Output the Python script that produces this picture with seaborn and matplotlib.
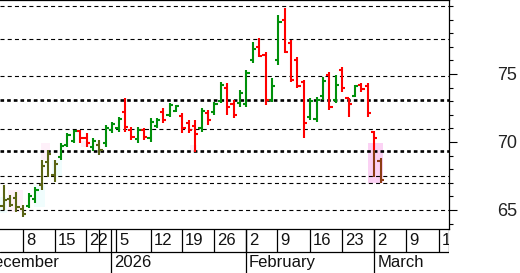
import numpy as np
import pandas as pd
import matplotlib
matplotlib.use("Agg")
import matplotlib.pyplot as plt
from matplotlib.patches import Rectangle
import seaborn as sns

# ---------------- data ----------------
opens = [65.30, 65.80, 65.90, 65.10, 65.30, 65.80, 66.80, 68.50, 67.60, 68.90,
         69.80, 70.10, 70.80, 70.30, 69.60, 69.80, 69.90, 70.90, 71.00, 72.20,
         70.90, 70.20, 70.85, 70.30, 71.20, 72.20, 72.00, 72.30, 71.90, 71.40,
         71.20, 71.00, 72.10, 72.20, 73.00, 74.00, 72.80, 72.90, 72.80, 76.00,
         77.00, 76.40, 73.10, 76.00, 79.00, 77.30, 76.00, 74.40, 71.80, 71.70,
         73.40, 74.90, 73.10, 75.30, 73.20, 73.40, 74.20, 74.10, 70.70, 68.60]
highs = [66.84, 66.10, 66.30, 65.35, 66.25, 66.70, 68.70, 69.40, 68.70, 69.90,
         70.65, 70.90, 70.90, 70.65, 70.30, 70.15, 71.25, 71.45, 71.85, 73.25,
         71.10, 71.10, 71.05, 71.75, 71.75, 72.50, 72.85, 72.70, 72.15, 71.60,
         71.60, 72.50, 72.35, 72.95, 74.40, 74.35, 73.10, 73.80, 75.30, 77.35,
         77.65, 76.60, 74.70, 79.35, 79.85, 77.50, 76.25, 74.55, 73.25, 73.30,
         74.80, 75.15, 74.90, 75.50, 73.25, 74.20, 74.35, 74.35, 70.80, 68.80]
lows = [65.00, 65.20, 64.85, 64.50, 65.15, 65.50, 66.50, 67.45, 67.05, 68.70,
        69.60, 69.90, 69.95, 69.65, 69.30, 69.05, 69.65, 70.65, 70.75, 70.75,
        70.15, 69.95, 70.15, 70.00, 71.05, 71.40, 71.85, 72.20, 70.65, 70.65,
        69.25, 70.75, 71.25, 71.95, 72.85, 72.00, 71.75, 72.55, 72.55, 75.80,
        76.25, 72.70, 72.95, 75.65, 76.55, 74.40, 73.95, 70.30, 71.60, 71.45,
        73.10, 72.35, 72.85, 73.70, 71.85, 73.30, 73.70, 71.85, 67.45, 67.00]
closes = [65.75, 65.40, 65.20, 64.70, 66.00, 66.50, 68.20, 69.10, 68.40, 69.70,
          70.50, 70.80, 70.30, 69.90, 70.10, 69.40, 71.00, 71.30, 71.70, 71.10,
          70.40, 70.90, 70.40, 71.50, 71.60, 71.60, 72.70, 72.65, 71.00, 70.90,
          70.60, 72.30, 71.60, 72.80, 74.20, 72.60, 72.00, 73.60, 75.10, 76.80,
          76.30, 73.10, 74.10, 78.80, 76.65, 74.55, 74.10, 71.40, 73.00, 73.10,
          74.50, 72.60, 74.20, 74.00, 72.80, 74.10, 73.90, 72.10, 70.30, 67.20]
kinds = ['o', 'o', 'o', 'o', 'g', 'g', 'o', 'o', 'o', 'g',
         'g', 'g', 'r', 'r', 'g', 'o', 'g', 'g', 'g', 'r',
         'r', 'g', 'r', 'g', 'g', 'r', 'g', 'g', 'r', 'r',
         'r', 'g', 'r', 'g', 'g', 'r', 'r', 'g', 'g', 'g',
         'r', 'r', 'g', 'g', 'r', 'r', 'r', 'r', 'g', 'g',
         'g', 'r', 'g', 'r', 'r', 'g', 'r', 'r', 'r', 'b']
split_bar = 58          # bar whose lower part is brown
split_value = 69.40

grid_levels = [80.0, 77.55, 74.83, 73.11, 70.96, 69.36, 67.5, 66.96, 64.98]
heavy_levels = [73.11, 69.36]

# shaded boxes: (slot_left, slot_right, low, high, kind)
shade_l = [-0.6, 0.7, 4.7, 5.8, 7.6, 12.2, 29.2, 57.05]
shade_r = [0.6, 3.0, 6.5, 7.3, 9.2, 13.6, 30.3, 59.4]
shade_lo = [64.8, 64.85, 65.2, 68.7, 67.5, 69.6, 69.25, 66.99]
shade_hi = [65.95, 66.5, 66.85, 69.9, 68.7, 70.1, 69.8, 69.93]
shade_k = ['c', 'p', 'c', 'p', 'c', 'p', 'p', 'P']

week_pos = [3, 8, 12.9, 15, 17.6, 23, 27.9, 33, 37.95, 42.85, 47.95, 52.9, 58, 63, 68.15]
week_lab = ['8', '15', '22', '', '5', '12', '19', '26', '2', '9', '16', '23', '2', '9', '16']
month_pos = [-3.75, 16.86, 37.95, 58.0]
month_lab = ['December', '2026', 'February', 'March']

# ---------------- style ----------------
sns.set_theme(style="white")
plt.rcParams['font.family'] = ['Liberation Sans Narrow', 'Liberation Sans', 'DejaVu Sans']
plt.rcParams['lines.scale_dashes'] = False

palette = {'g': '#00900a', 'r': '#ff0000', 'o': '#5a6414', 'b': '#8c3c14'}
shade_col = {'c': '#f0fdfd', 'p': '#fef0f9', 'P': '#fbd2f4'}

W, H = 520, 273
fig = plt.figure(figsize=(W / 100, H / 100), dpi=100)
ax = fig.add_axes([0, 44 / H, 449 / W, 229 / H])
band = fig.add_axes([0, 0, 449 / W, 44 / H])

xlim = (-0.552, 69.71)
ax.set_xlim(*xlim)
ax.set_ylim(63.60, 80.44)

# shaded boxes
for l, r, lo, hi, k in zip(shade_l, shade_r, shade_lo, shade_hi, shade_k):
    ax.add_patch(Rectangle((l, lo), r - l, hi - lo, facecolor=shade_col[k],
                           edgecolor='none', zorder=0.5))

# gridlines
for lv in grid_levels:
    if lv in heavy_levels:
        ax.axhline(lv, color='black', lw=1.9, linestyle=(0, (2.6, 2.2)), zorder=1)
    else:
        ax.axhline(lv, color='black', lw=0.8, linestyle=(0, (2.9, 2.3)), zorder=1)

# OHLC segments in long form
rows = []
seg = 0
tick = 0.5
for i, (o, h, l, c, k) in enumerate(zip(opens, highs, lows, closes, kinds)):
    if i == split_bar:
        rows += [(seg, i, h, k), (seg, i, split_value, k)]
        seg += 1
        rows += [(seg, i, split_value, 'b'), (seg, i, l, 'b')]
        seg += 1
    else:
        rows += [(seg, i, h, k), (seg, i, l, k)]
        seg += 1
    rows += [(seg, i - tick, o, k), (seg, i, o, k)]
    seg += 1
    rows += [(seg, i, c, k), (seg, i + tick, c, k)]
    seg += 1
df = pd.DataFrame(rows, columns=['seg', 'x', 'y', 'kind'])
sns.lineplot(data=df, x='x', y='y', units='seg', estimator=None, hue='kind',
             palette=palette, sort=False, legend=False, linewidth=1.5, ax=ax,
             zorder=3)
for ln in ax.lines[-(df['seg'].nunique()):]:
    ln.set_solid_capstyle('butt')

ax.set_xlabel('')
ax.set_ylabel('')
ax.set_xticks([])
ax.yaxis.tick_right()
ax.set_yticks([65, 70, 75])
ax.set_yticklabels(['65', '70', '75'])
ax.set_yticks(list(range(64, 81)), minor=True)
ax.tick_params(axis='y', which='major', direction='out', length=6, width=0.8,
               color='black', pad=29, labelsize=13, right=True, left=False,
               labelright=True, labelleft=False, labelcolor='#222222')
ax.tick_params(axis='y', which='minor', direction='out', length=3.2, width=0.8,
               color='black', right=True, left=False)
for s in ['top', 'right', 'bottom']:
    ax.spines[s].set_visible(True)
    ax.spines[s].set_color('black')
    ax.spines[s].set_linewidth(0.9)
ax.spines['left'].set_visible(False)

# date band
band.set_xlim(*xlim)
band.set_ylim(0, 1)
band.axis('off')
split = 21 / 44
band.axhline(split, color='black', lw=0.9)
band.vlines(week_pos, split, 1, color='black', lw=0.9)
band.vlines(month_pos, 0, 1, color='black', lw=0.9)
band.vlines([xlim[1] - 0.02], split, 1, color='black', lw=0.9)
for p, t in zip(week_pos, week_lab):
    if t:
        band.annotate(t, xy=(p, (1 + split) / 2), xytext=(2.2, 0),
                      textcoords='offset points', ha='left', va='center',
                      fontsize=12, color='#111111', annotation_clip=False,
                      clip_on=True)
for p, t in zip(month_pos, month_lab):
    band.annotate(t, xy=(p, split / 2), xytext=(2.2, 0),
                  textcoords='offset points', ha='left', va='center',
                  fontsize=12, color='#111111', annotation_clip=False,
                  clip_on=True)

fig.savefig('out.png', dpi=100)
